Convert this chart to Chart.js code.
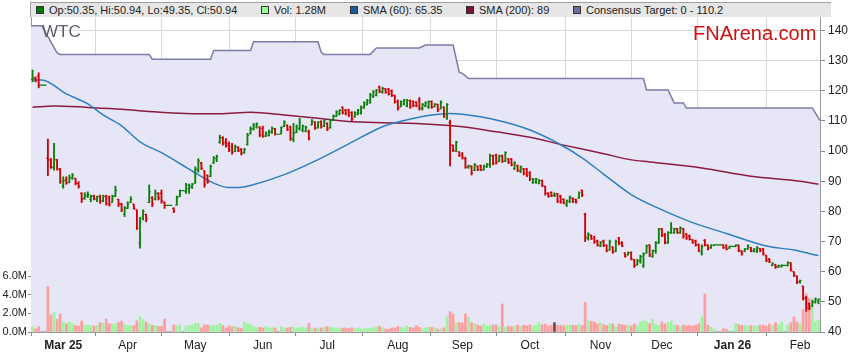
<!DOCTYPE html>
<html lang="en">
<head>
<meta charset="utf-8">
<title>WTC</title>
<script src="https://cdn.jsdelivr.net/npm/chart.js@4.4.1/dist/chart.umd.min.js"></script>
<style>
    html, body { margin: 0; padding: 0; background: #fff; }
    #box { position: relative; width: 859px; height: 363px; font-family: "Liberation Sans", Arial, sans-serif; }
    #chart { position: absolute; left: 0; top: 0; }
    #legend { position: absolute; left: 30px; top: 2px; width: 800px; height: 14px; background: #e6e6e6; border-top: 1px solid #a0a0a0; border-left: 1px solid #a0a0a0; }
    .item { position: absolute; top: 0; font-size: 11px; line-height: 14px; color: #222; white-space: nowrap; }
    .sw { display: inline-block; width: 6px; height: 6px; border: 1px solid #333; margin-right: 5px; }
    #code { position: absolute; left: 42px; top: 22px; font-size: 17px; line-height: 20px; color: #5a5d6b; }
    #brand { position: absolute; left: 693px; top: 21px; font-size: 20px; line-height: 24px; color: #cc1111; }
</style>
</head>
<body>
<div id="box">
    <canvas id="chart" width="859" height="363"></canvas>
    <div id="legend">
        <span class="item" style="left:5px"><span class="sw" style="background:#007a00"></span>Op:50.35, Hi:50.94, Lo:49.35, Cl:50.94</span>
        <span class="item" style="left:230px"><span class="sw" style="background:#99ff99"></span>Vol: 1.28M</span>
        <span class="item" style="left:319px"><span class="sw" style="background:#1c5c9c"></span>SMA (60): 65.35</span>
        <span class="item" style="left:435px"><span class="sw" style="background:#7b1030"></span>SMA (200): 89</span>
        <span class="item" style="left:542px"><span class="sw" style="background:#6c6c99"></span>Consensus Target: 0 - 110.2</span>
    </div>
    <div id="code">WTC</div>
    <div id="brand">FNArena.com</div>
</div>
<script>
const START = '2025-02-17';
const END = '2026-02-10';

// one slot per weekday; holidays and the February halt are flat bars with no volume
const dates = [];
for (let d = new Date(START + 'T00:00:00Z'); d <= new Date(END + 'T00:00:00Z'); d.setUTCDate(d.getUTCDate() + 1)) {
    const wd = d.getUTCDay();
    if (wd !== 0 && wd !== 6) dates.push(d.toISOString().slice(0, 10));
}

const opens = [
    123.8,124.3,125.0,121.9,121.9,97.6,97.2,94.5,97.0,94.0,
    88.5,90.5,89.6,91.0,91.0,89.3,86.0,84.3,85.0,84.0,
    85.2,84.0,85.0,83.5,85.0,84.5,83.0,85.0,84.0,82.4,
    79.0,81.0,83.0,82.4,80.5,69.5,77.5,79.0,83.0,84.5,
    84.0,86.0,86.0,83.0,82.0,82.0,81.0,82.2,85.0,86.9,
    86.6,87.5,88.0,89.5,93.8,96.0,93.5,92.0,91.6,96.2,
    97.5,103.0,104.5,103.0,102.5,101.5,100.0,101.2,100.5,99.5,
    102.2,105.8,107.3,108.0,108.0,107.5,105.0,105.3,106.2,107.4,
    105.6,105.7,108.2,108.6,108.0,104.0,106.2,107.5,107.0,106.6,
    106.5,108.7,109.6,107.8,109.8,108.3,109.2,107.8,110.3,111.5,
    112.3,114.5,113.5,113.6,112.8,111.4,112.2,112.6,114.3,115.4,
    116.0,118.0,118.6,121.3,119.5,120.7,120.5,120.0,118.4,116.5,
    114.8,115.6,115.0,116.8,116.5,116.2,117.0,114.0,115.0,114.5,
    116.4,114.7,115.5,114.0,114.6,111.0,109.5,102.0,100.0,99.8,
    99.3,97.5,94.6,95.0,93.6,95.0,95.2,93.8,94.8,95.5,
    98.5,98.6,96.6,98.4,96.8,97.4,97.3,94.2,95.2,93.3,
    94.1,94.0,92.8,89.6,89.8,89.4,90.2,88.3,86.1,86.3,
    85.4,85.9,85.0,84.0,82.2,83.3,84.3,84.0,84.5,87.0,
    79.0,71.0,72.0,71.6,70.2,68.6,70.2,68.8,67.2,68.2,
    66.8,71.2,69.6,66.2,65.6,66.3,64.0,62.3,63.5,62.0,
    66.2,68.9,65.0,67.0,69.5,74.3,72.5,69.6,73.0,73.0,
    74.3,73.0,74.3,72.5,71.8,70.6,70.3,69.0,66.2,70.4,
    68.8,68.0,68.7,68.9,68.9,68.9,68.8,67.8,68.4,68.3,
    68.8,66.9,66.7,67.6,68.0,66.8,66.7,67.6,67.5,65.3,
    64.2,62.2,62.4,61.6,61.8,62.1,62.0,62.9,60.0,58.5,
    56.6,55.2,51.3,49.3,48.6,49.7,50.35
];
const highs = [
    126.9,124.6,126.0,121.9,121.9,104.0,97.6,102.6,97.3,94.3,
    91.5,91.5,92.1,92.6,91.0,89.9,86.2,86.2,86.5,85.4,
    85.4,85.1,85.4,85.4,85.4,85.1,85.4,88.4,84.0,82.7,
    81.6,83.2,84.9,82.4,80.5,78.0,80.5,79.1,88.8,84.9,
    87.1,86.2,87.1,83.2,82.0,82.0,81.2,85.1,87.1,86.9,
    89.3,89.1,89.3,94.8,97.5,96.3,93.5,92.1,95.4,98.2,
    98.7,105.3,104.8,104.2,103.1,102.6,102.0,101.5,100.9,100.9,
    105.9,108.1,109.2,109.4,108.1,108.3,106.4,107.0,108.1,107.6,
    105.6,108.1,110.1,108.7,108.3,109.2,108.7,110.9,108.7,108.3,
    107.0,110.5,109.8,109.8,110.1,110.3,109.4,110.5,112.0,113.4,
    113.8,114.7,113.9,113.9,113.1,113.1,113.9,115.0,116.4,117.2,
    119.2,120.1,120.5,121.6,121.2,120.8,120.8,120.3,118.6,117.0,
    116.7,117.2,117.2,117.0,116.7,116.4,117.8,115.8,116.4,116.7,
    116.7,115.8,115.6,116.7,114.7,115.8,110.3,102.0,103.3,99.8,
    99.5,98.0,95.4,95.1,95.9,95.1,95.4,95.4,95.9,99.0,
    98.7,99.0,98.7,98.7,99.8,97.6,97.6,96.5,95.4,95.1,
    94.3,94.3,93.2,91.0,91.0,90.6,90.4,88.4,86.2,86.5,
    86.2,86.0,85.4,84.2,83.8,85.1,84.5,84.1,86.5,87.1,
    79.4,72.9,72.2,71.8,70.5,70.0,70.5,68.9,70.5,68.3,
    70.5,71.4,70.0,66.3,66.6,66.6,64.1,64.1,65.5,66.3,
    68.9,68.9,67.2,70.0,74.4,74.4,72.7,73.3,76.3,74.4,
    74.4,74.9,74.4,72.7,72.2,70.7,70.5,69.2,68.9,70.7,
    68.9,68.9,69.0,68.9,68.9,68.9,68.9,68.5,68.4,68.9,
    68.9,67.0,67.7,68.9,68.1,67.7,68.3,67.7,67.7,65.5,
    64.4,63.0,62.5,62.2,62.3,62.1,63.3,63.0,60.0,58.6,
    57.2,55.2,51.8,49.6,50.6,51.3,50.94
];
const lows = [
    123.0,123.0,121.0,121.9,121.9,91.9,94.3,93.7,93.7,89.3,
    87.7,89.0,89.5,90.6,88.8,87.7,82.9,84.0,84.6,83.2,
    83.8,83.2,82.7,83.2,82.1,81.8,83.0,84.9,81.6,79.9,
    78.3,81.0,82.9,80.7,74.0,67.8,77.2,76.6,82.9,81.6,
    83.8,83.8,82.7,81.0,82.0,82.0,79.6,82.1,84.9,86.9,
    86.0,86.0,87.6,89.3,93.0,93.9,88.0,89.3,91.5,95.9,
    96.5,102.6,102.0,101.3,99.8,99.0,99.8,99.8,98.7,99.3,
    102.0,105.7,107.0,107.6,104.8,104.6,104.8,105.0,105.9,105.3,
    105.6,105.7,108.1,106.8,103.5,103.1,106.1,107.0,106.4,106.4,
    103.7,108.7,107.2,107.6,107.6,108.1,106.8,107.6,110.1,111.4,
    112.0,112.3,112.0,111.4,110.1,111.2,112.0,112.3,114.2,115.3,
    115.9,117.8,118.3,119.4,119.2,119.2,118.6,118.1,115.9,113.6,
    114.7,115.3,114.7,114.2,114.7,114.7,113.6,113.6,114.7,114.2,
    114.2,114.7,113.1,114.0,111.2,110.5,95.1,99.8,99.8,98.2,
    97.4,94.3,94.3,92.1,93.5,93.5,93.5,93.7,94.6,94.6,
    95.4,95.7,96.5,96.2,96.5,95.9,95.1,93.9,93.2,92.9,
    92.1,91.5,90.2,89.3,89.3,89.1,88.2,85.4,84.7,84.9,
    84.9,82.9,82.7,82.5,81.6,82.9,82.9,82.7,84.3,84.9,
    70.0,70.5,70.7,69.4,68.5,68.3,68.3,66.6,67.1,66.1,
    66.6,68.9,68.3,64.8,65.5,63.9,61.4,62.2,62.8,61.4,
    66.1,65.0,64.8,66.1,69.4,71.6,69.2,69.4,72.7,72.7,
    72.7,72.7,71.1,70.7,70.5,69.4,68.5,66.6,65.5,68.5,
    67.2,67.7,68.6,68.9,68.9,67.7,67.2,67.7,68.4,68.3,
    66.6,65.5,66.6,67.4,66.6,66.6,66.3,66.6,65.5,63.3,
    63.0,61.9,61.1,61.4,61.5,62.1,61.9,60.2,58.4,56.0,
    56.2,50.6,46.9,47.4,48.5,49.6,49.35
];
const closes = [
    124.2,123.6,121.9,121.9,121.9,97.0,94.8,97.3,94.0,90.0,
    90.2,89.5,91.2,92.0,89.3,88.3,84.0,85.5,85.6,85.0,
    84.2,84.8,83.4,85.0,82.6,82.3,85.0,87.0,82.5,80.6,
    81.2,82.5,84.0,81.0,74.5,76.5,80.0,77.5,86.5,82.5,
    86.0,84.5,83.5,82.0,82.0,82.0,80.2,84.6,86.9,86.9,
    88.7,88.5,89.0,94.0,96.8,94.3,89.0,89.8,95.0,97.8,
    98.3,104.5,102.5,101.8,100.4,99.6,101.5,100.2,99.3,100.6,
    105.2,107.5,108.6,109.0,105.3,105.0,106.0,106.5,107.6,105.6,
    105.6,107.8,109.6,107.2,104.2,106.0,108.0,109.5,108.2,107.9,
    104.3,110.0,107.6,109.5,108.0,110.0,107.3,110.2,111.6,113.0,
    113.5,112.7,112.4,111.9,110.6,112.8,113.5,114.6,116.0,116.8,
    118.6,119.7,120.2,119.8,120.8,119.5,119.0,118.5,116.3,114.2,
    116.4,116.9,116.8,114.7,115.1,115.0,114.3,115.5,116.0,116.4,
    114.6,115.6,113.6,116.2,111.6,115.5,102.0,100.3,103.0,98.6,
    97.8,94.8,95.1,92.6,95.5,93.9,93.8,95.0,95.7,98.3,
    96.0,96.2,98.4,96.6,99.5,96.3,95.5,96.0,93.6,94.7,
    92.5,92.0,90.7,90.7,90.8,90.3,88.6,85.9,85.0,85.2,
    85.4,83.3,83.2,82.9,83.5,84.8,83.3,83.1,86.2,85.5,
    71.5,72.5,71.0,69.9,68.9,69.7,68.7,67.0,70.0,66.6,
    70.0,69.4,68.6,65.1,66.3,64.2,62.0,63.8,65.0,65.8,
    68.4,65.6,67.0,69.6,74.0,72.0,69.8,73.0,74.5,74.2,
    73.0,74.6,71.8,71.1,70.8,69.7,68.8,67.0,68.4,68.9,
    67.6,68.8,68.9,68.9,68.9,68.0,67.5,68.4,68.4,68.8,
    67.0,65.9,67.5,68.6,67.0,67.5,68.0,66.9,65.9,63.7,
    63.3,62.8,61.6,62.0,62.1,62.1,63.0,60.6,58.8,56.6,
    57.0,51.2,48.0,47.8,50.0,51.0,50.94
];
// volume in millions of shares
const volumes = [
    0.57,0.32,0.57,0,0,4.86,1.82,2.07,1.36,1.93,
    1.07,0.89,1.07,0.89,0.71,0.64,1.18,0.71,0.75,0.71,
    0.64,0.68,1.0,0.96,1.39,0.89,0.86,0.86,1.0,1.18,
    0.86,0.71,0.68,0.68,1.2,1.64,1.32,1.07,0.86,0.71,
    0.71,0.6,0.6,1.39,0,0,0.75,0.64,0.75,0,
    0.68,0.68,0.75,0.93,0.93,0.46,0.75,0.75,0.71,0.68,
    0.75,0.93,0.68,0.43,0.64,0.57,0.64,0.46,0.36,1.07,
    0.9,0.86,0.57,0.46,0.5,0.43,0.6,0.46,0.46,0.43,
    0,0.57,0.46,0.43,0.5,0.53,0.43,0.46,0.5,0.43,
    0.9,0.36,0.43,0.36,0.43,0.5,0.6,0.5,0.46,0.43,
    0.36,0.43,0.43,0.36,0.46,0.36,0.43,0.32,0.36,0.36,
    0.43,0.46,0.57,0.6,0.46,0.32,0.29,0.43,0.43,0.6,
    0.5,0.43,0.64,0.5,0.43,0.68,0.5,0.36,0.46,0.5,
    0.5,0.43,0.3,0.35,0.45,1.64,2.18,1.9,1.0,1.0,
    0.96,1.93,1.6,1.0,0.9,0.75,0.64,0.86,0.68,0.71,
    0.75,0.75,0.57,3.0,0.5,0.64,0.57,0.64,0.75,0.57,
    0.71,0.64,0.75,0.6,0.75,1.0,0.75,0.86,0.64,0.71,
    1.0,0.71,0.71,0.68,0.75,0.75,0.71,0.71,0.82,0.68,
    3.2,1.2,1.14,1.07,0.86,1.0,0.78,0.71,0.86,0.86,
    0.57,0.86,0.78,0.71,0.75,0.64,0.86,0.68,1.07,1.2,
    1.14,0.9,1.4,0.86,0.71,1.07,0.86,1.0,1.2,0.78,
    0.71,0.6,0.75,0.64,0.71,0.64,0.75,0.86,1.6,4.07,
    0.71,0.5,0.3,0,0,0.35,0.3,0.15,0,0.9,
    0.8,0.7,0.7,0.64,0.71,0.6,0.64,0.71,0.75,0.64,
    0.86,0.71,1.0,0.75,1.07,0,0.75,1.0,1.6,1.07,
    0.9,2.4,4.07,3.6,2.7,1.1,1.28
];

const sma60Dates = ['2025-02-17','2025-02-20','2025-03-04','2025-03-13','2025-03-20','2025-03-28','2025-04-07','2025-04-16','2025-04-24','2025-05-02','2025-05-09','2025-05-16','2025-05-22','2025-05-27','2025-06-11','2025-06-26','2025-07-10','2025-07-25','2025-08-04','2025-08-18','2025-08-26','2025-09-01','2025-09-16','2025-10-01','2025-10-14','2025-10-24','2025-11-04','2025-11-17','2025-11-28','2025-12-15','2025-12-30','2026-01-16','2026-01-29','2026-02-10'];
const sma60Values = [123.6,123.6,119.0,115.7,112.0,108.4,103.1,99.5,95.9,92.2,89.4,87.9,88.0,88.6,92.2,97.2,102.4,108.1,109.9,112.0,112.5,112.2,110.3,107.0,102.7,97.8,92.4,85.6,81.0,76.3,72.7,68.5,67.2,65.35];

const sma200Dates = ['2025-02-17','2025-02-26','2025-03-13','2025-03-28','2025-04-11','2025-04-28','2025-05-13','2025-05-27','2025-06-11','2025-06-26','2025-07-10','2025-07-25','2025-08-11','2025-09-01','2025-09-16','2025-10-01','2025-10-16','2025-11-03','2025-11-17','2025-11-25','2025-12-18','2026-01-09','2026-02-02','2026-02-10'];
const sma200Values = [114.6,115.0,114.5,113.9,113.1,112.5,112.4,112.9,112.0,110.9,109.8,109.4,109.2,108.1,106.4,104.6,102.0,99.4,97.1,96.4,94.4,91.7,90.0,89.0];

// consensus target: the dates where the line changes
const targetDates = ['2025-02-17','2025-02-20','2025-02-27','2025-02-28','2025-04-10','2025-04-11','2025-05-08','2025-05-09','2025-05-27','2025-05-28','2025-06-26','2025-06-27','2025-06-30','2025-07-21','2025-07-23','2025-08-12','2025-08-14','2025-08-27','2025-08-29','2025-09-01','2025-09-03','2025-11-21','2025-11-24','2025-12-03','2025-12-05','2025-12-10','2025-12-11','2026-02-06','2026-02-10'];
const targetValues = [141.6,141.6,132.6,132.1,132.1,130.5,130.5,133.4,133.4,136.3,136.3,132.8,132.1,132.1,134.2,134.2,135.2,135.2,126.1,125.8,124.1,124.1,120.3,120.3,116.0,116.0,114.3,114.3,110.2];

const monthNames = ['Jan','Feb','Mar','Apr','May','Jun','Jul','Aug','Sep','Oct','Nov','Dec'];
const monthTicks = [];
const monthLabels = {};
dates.forEach((d, i) => {
    if (i > 0 && d.slice(5, 7) !== dates[i - 1].slice(5, 7)) {
        const m = +d.slice(5, 7) - 1;
        monthTicks.push(i);
        monthLabels[i] = (monthTicks.length === 1 || m === 0) ? monthNames[m] + ' ' + d.slice(2, 4) : monthNames[m];
    }
});

const slotOf = d => dates.indexOf(d);
const last = dates.length - 1;

const priceColor = i => closes[i] >= opens[i] ? '#0a800a' : '#d00000';
function volColor(i) {
    if (closes[i] > opens[i]) return '#9cf59c';
    if (closes[i] < opens[i]) return '#ff9c9c';
    return '#555555';
}

// open tick to the left, close tick to the right of each high-low bar
const ohlcTicks = {
    id: 'ohlcTicks',
    afterDatasetsDraw(chart) {
        const x = chart.scales.x;
        const y = chart.scales.y;
        const ctx = chart.ctx;
        const half = (x.getPixelForValue(1) - x.getPixelForValue(0)) / 2;
        const area = chart.chartArea;
        ctx.save();
        ctx.beginPath();
        ctx.rect(area.left, area.top, area.right - area.left, area.bottom - area.top);
        ctx.clip();
        ctx.lineWidth = 1.2;
        dates.forEach((d, i) => {
            const px = x.getPixelForValue(i);
            ctx.strokeStyle = priceColor(i);
            ctx.beginPath();
            ctx.moveTo(px - half, y.getPixelForValue(opens[i]));
            ctx.lineTo(px, y.getPixelForValue(opens[i]));
            ctx.moveTo(px, y.getPixelForValue(closes[i]));
            ctx.lineTo(px + half, y.getPixelForValue(closes[i]));
            ctx.stroke();
        });
        ctx.restore();
    }
};

Chart.defaults.font.family = '"Liberation Sans", Arial, sans-serif';
Chart.defaults.font.size = 12;
Chart.defaults.color = '#222';

new Chart(document.getElementById('chart'), {
    type: 'bar',
    data: {
        datasets: [
            {
                type: 'line',
                label: 'Consensus Target',
                data: targetDates.map((d, i) => ({
                    x: slotOf(d) + (i === 0 ? -0.5 : i === targetDates.length - 1 ? 0.5 : 0),
                    y: targetValues[i]
                })),
                borderColor: '#7c7ca8',
                borderWidth: 1.5,
                backgroundColor: '#e6e6f6',
                fill: 'start',
                pointRadius: 0,
                tension: 0,
                order: 10
            },
            {
                label: 'Vol',
                data: dates.map((d, i) => ({ x: i, y: volumes[i] })),
                backgroundColor: dates.map((d, i) => volColor(i)),
                yAxisID: 'yVol',
                barThickness: 2,
                grouped: false,
                order: 8
            },
            {
                type: 'line',
                label: 'SMA (200)',
                data: sma200Dates.map((d, i) => ({ x: slotOf(d), y: sma200Values[i] })),
                borderColor: '#8b1c40',
                borderWidth: 1.5,
                pointRadius: 0,
                cubicInterpolationMode: 'monotone',
                order: 6
            },
            {
                type: 'line',
                label: 'SMA (60)',
                data: sma60Dates.map((d, i) => ({ x: slotOf(d), y: sma60Values[i] })),
                borderColor: '#2f7fc0',
                borderWidth: 1.5,
                pointRadius: 0,
                cubicInterpolationMode: 'monotone',
                order: 5
            },
            {
                label: 'WTC',
                data: dates.map((d, i) => ({ x: i, y: [lows[i], highs[i]] })),
                backgroundColor: dates.map((d, i) => priceColor(i)),
                barThickness: 1.2,
                grouped: false,
                order: 1
            }
        ]
    },
    options: {
        responsive: false,
        animation: false,
        events: [],
        layout: { padding: { top: 17, left: 0, right: 0, bottom: 0 } },
        plugins: {
            legend: { display: false },
            tooltip: { enabled: false }
        },
        scales: {
            x: {
                type: 'linear',
                min: -0.5,
                max: last + 0.5,
                offset: false,
                afterBuildTicks: s => { s.ticks = monthTicks.map(v => ({ value: v })); },
                afterFit: s => { s.height = 31; },
                ticks: {
                    autoSkip: false,
                    maxRotation: 0,
                    padding: 2,
                    callback: v => monthLabels[v],
                    font: c => ({ size: 12, weight: (c.tick && /\d/.test(c.tick.label)) ? 'bold' : 'normal' })
                },
                grid: { color: '#d8d8d8', tickColor: '#888', tickLength: 4 },
                border: { color: '#999' }
            },
            y: {
                position: 'right',
                min: 40,
                max: 144.5,
                afterFit: s => { s.width = 39; },
                ticks: { stepSize: 10, includeBounds: false, padding: 3 },
                grid: { color: '#d8d8d8', tickColor: '#888', tickLength: 5 },
                border: { color: '#999' }
            },
            yVol: {
                position: 'left',
                min: 0,
                max: 33.75,
                afterBuildTicks: s => { s.ticks = [0, 2, 4, 6].map(v => ({ value: v })); },
                afterFit: s => { s.width = 31; },
                ticks: { padding: 1, font: { size: 11 }, callback: v => v.toFixed(1) + 'M' },
                grid: { drawOnChartArea: false, tickColor: '#888', tickLength: 3 },
                border: { color: '#999' }
            }
        }
    },
    plugins: [ohlcTicks]
});
</script>
</body>
</html>
